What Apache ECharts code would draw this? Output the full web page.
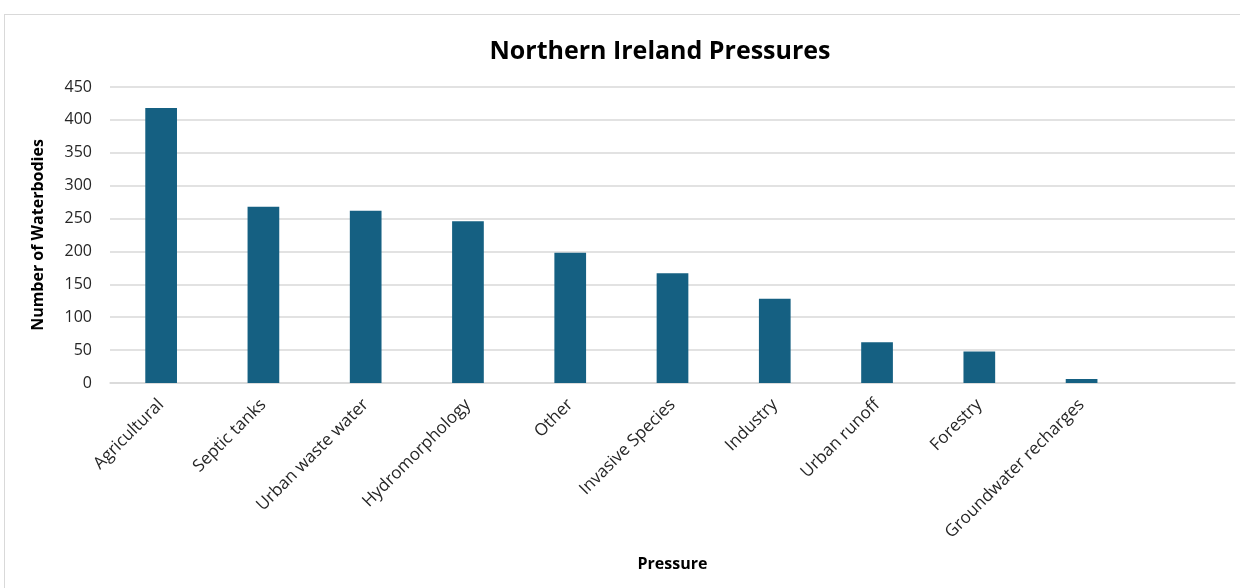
<!DOCTYPE html>
<html>
<head>
<meta charset="utf-8">
<script src="https://cdn.jsdelivr.net/npm/echarts@6/dist/echarts.min.js"></script>
<style>
  html, body { margin: 0; padding: 0; background: #fff; }
  #frame { position: absolute; left: 4px; top: 14px; width: 1250px; height: 590px; border: 1px solid #d9d9d9; }
  #chart { position: absolute; left: 0; top: 0; width: 1240px; height: 588px; }
</style>
</head>
<body>
<div id="frame"></div>
<div id="chart"></div>
<script>
const categories = ['Agricultural', 'Septic tanks', 'Urban waste water', 'Hydromorphology', 'Other',
  'Invasive Species', 'Industry', 'Urban runoff', 'Forestry', 'Groundwater recharges', ''];
const waterbodies = [418, 268, 262, 246, 198, 167, 128, 62, 48, 6, null];
const yTicks = { min: 0, max: 450, interval: 50 };

const font = '"Open Sans", Roboto, sans-serif';
let myChart = echarts.init(document.getElementById('chart'));
let option = {
  animation: false,
  title: {
    text: 'Northern Ireland Pressures',
    left: 655,
    top: 34,
    textAlign: 'center',
    textStyle: {
      fontFamily: font,
      fontSize: 25,
      fontWeight: 'bold',
      color: '#000'
    }
  },
  grid: {
    left: 110,
    right: 5,
    top: 87,
    bottom: 205
  },
  xAxis: {
    type: 'category',
    data: categories,
    name: 'Pressure',
    nameLocation: 'middle',
    nameGap: 173,
    nameTextStyle: { fontFamily: font, fontSize: 16, fontWeight: 'bold', color: '#000' },
    axisLine: { lineStyle: { color: '#d9d9d9', width: 1.5 } },
    axisTick: { show: false },
    axisLabel: {
      rotate: 45,
      interval: 0,
      margin: 19,
      fontFamily: font,
      fontSize: 17,
      color: '#262626'
    }
  },
  yAxis: {
    type: 'value',
    min: yTicks.min,
    max: yTicks.max,
    interval: yTicks.interval,
    name: 'Number of Waterbodies',
    nameLocation: 'middle',
    nameGap: 64,
    nameTextStyle: { fontFamily: font, fontSize: 16, fontWeight: 'bold', color: '#000' },
    axisLine: { show: false },
    axisTick: { show: false },
    axisLabel: { margin: 18, fontFamily: font, fontSize: 16, color: '#262626' },
    splitLine: { lineStyle: { color: '#d9d9d9', width: 1.5 } }
  },
  series: [
    {
      name: 'Number of Waterbodies',
      type: 'bar',
      barWidth: '31%',
      data: waterbodies,
      itemStyle: { color: '#156082' }
    }
  ]
};
myChart.setOption(option);
</script>
</body>
</html>
